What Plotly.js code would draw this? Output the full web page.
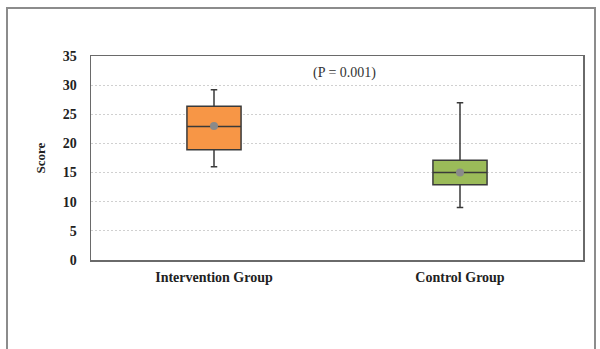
<!DOCTYPE html>
<html><head><meta charset="utf-8">
<script src="https://cdn.plot.ly/plotly-3.0.1.min.js"></script>
<style>html,body{margin:0;padding:0;background:#fff;}#frame{position:absolute;left:6px;top:7px;width:590px;height:360px;border:2px solid #8c8c8c;pointer-events:none;box-sizing:border-box;}</style>
</head><body>
<div id="chart" style="width:600px;height:349px;"></div>
<div id="frame"></div>
<script>
const categories = ["Intervention Group", "Control Group"];
const lowerWhisker = [16.0, 9.0];
const q1 = [18.9, 12.9];
const median = [22.9, 15.0];
const q3 = [26.4, 17.1];
const upperWhisker = [29.2, 27.0];
const means = [23.0, 15.0];
const fills = ["#F79646", "#9BBB59"];
const pText = "(P = 0.001)";
const yTicks = [0, 5, 10, 15, 20, 25, 30, 35];

const traces = categories.map((c, i) => ({
  type: "box",
  x: [c],
  q1: [q1[i]], median: [median[i]], q3: [q3[i]],
  lowerfence: [lowerWhisker[i]], upperfence: [upperWhisker[i]],
  fillcolor: fills[i],
  line: {color: "#3a3a3a", width: 1.5},
  whiskerwidth: 0.12,
  width: 0.22,
  boxpoints: false,
  showlegend: false,
  hoverinfo: "skip"
}));
traces.push({
  type: "scatter", mode: "markers",
  x: categories, y: means,
  marker: {color: "#8a8a8a", size: 8},
  showlegend: false, hoverinfo: "skip"
});

const serif = "Liberation Serif, Times New Roman, serif";
const layout = {
  width: 600, height: 349,
  margin: {l: 91, r: 17, t: 56, b: 89},
  paper_bgcolor: "#ffffff", plot_bgcolor: "#ffffff",
  font: {family: serif, color: "#222"},
  xaxis: {
    type: "category", categoryarray: categories, range: [-0.5, 1.5],
    showgrid: false, zeroline: false,
    showline: true, linecolor: "#6a6a6a", linewidth: 1.5, mirror: true,
    ticks: "", ticklabelstandoff: 4,
    tickfont: {family: serif, size: 14, color: "#222", weight: "bold"}
  },
  yaxis: {
    range: [0, 35], tickvals: yTicks, ticktext: yTicks.map(String),
    showgrid: true, gridcolor: "#d0d0d0", griddash: "2px,2px", gridwidth: 1,
    zeroline: false,
    showline: true, linecolor: "#6a6a6a", linewidth: 1.5, mirror: true,
    ticks: "", ticklabelstandoff: 10,
    tickfont: {family: serif, size: 14, color: "#222", weight: "bold"},
    title: {text: "Score", standoff: 14, font: {family: serif, size: 13, color: "#222", weight: "bold"}}
  },
  annotations: [{
    xref: "paper", yref: "y", x: 0.516, y: 32, text: pText, showarrow: false,
    font: {family: serif, size: 14, color: "#333"}
  }]
};
Plotly.newPlot("chart", traces, layout, {staticPlot: true});
</script>
</body></html>
